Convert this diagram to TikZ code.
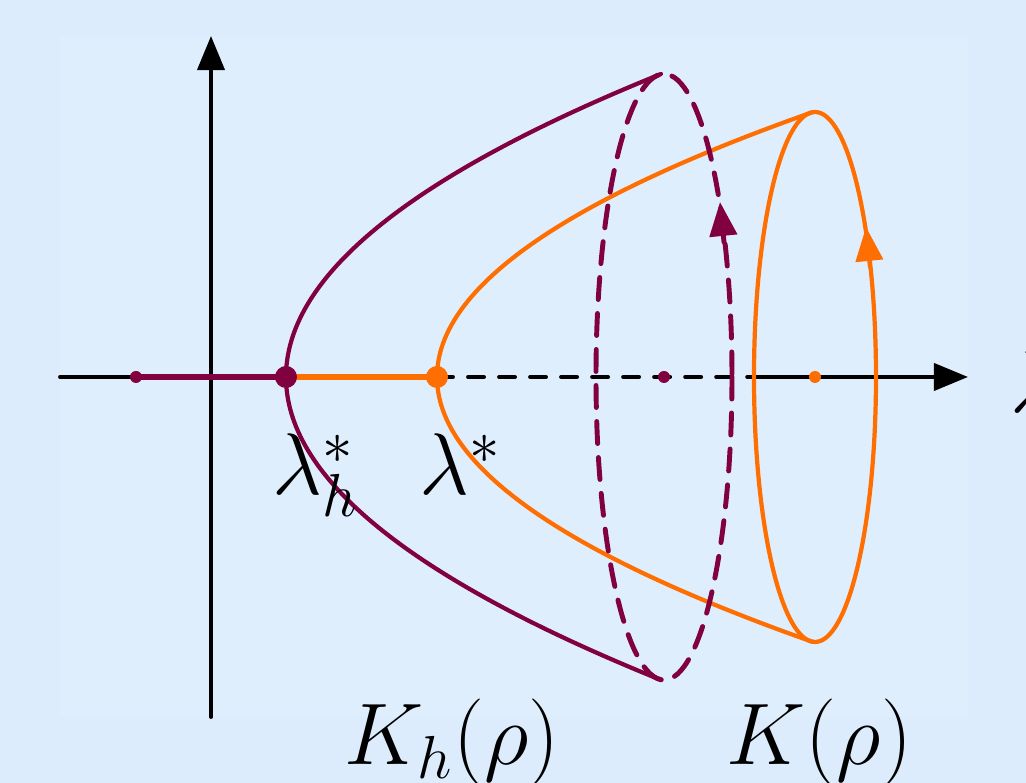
\documentclass[tikz,border=0pt]{standalone}
\usetikzlibrary{arrows.meta}
\definecolor{bgblue}{RGB}{221,236,252}
\definecolor{bginner}{RGB}{223,238,253}
\definecolor{plum}{RGB}{128,0,64}
\definecolor{tangerine}{RGB}{255,110,0}
\begin{document}
\begin{tikzpicture}[x=0.01cm, y=-0.01cm, line join=round, line cap=round,
    >={Triangle[length=0.34cm,width=0.27cm]}, font=\fontsize{24}{28}\selectfont,
    axis/.style={line width=1.1pt}, curve/.style={line width=1.2pt},
    lbl/.style={anchor=base west, inner sep=0pt}]
  \useasboundingbox[fill=bgblue] (0,0) rectangle (1026,783);
  \fill[bginner] (60,37) rectangle (968,717);
  % axes
  \draw[axis] (60,377) -- (437,377);
  \draw[axis, dash pattern=on 0.16cm off 0.15cm] (437,377) -- (754,377);
  \draw[axis,->] (754,377) -- (968,377);
  \draw[axis,->] (211,717) -- (211,36);
  % segments on the axis
  \draw[plum, line width=1.5pt] (136,377) -- (286,377);
  \draw[tangerine, line width=1.5pt] (286,377) -- (437,377);
  % parabolas
  \draw[plum, curve] plot[domain=-303:303, samples=61, smooth] ({286+375*(\x/303)^2}, {377+\x});
  \draw[tangerine, curve] plot[domain=-265:265, samples=61, smooth] ({437+376*(\x/265)^2}, {377+\x});
  % cross sections
  \draw[plum, line width=1.4pt, dash pattern=on 0.22cm off 0.14cm] (664,377) ellipse [x radius=68, y radius=303];
  \draw[tangerine, curve] (815,377) ellipse [x radius=61, y radius=265];
  \draw[plum, line width=1.4pt, ->] (724,242) -- (720,202);
  \draw[tangerine, curve, ->] (870,267) -- (866,227);
  % points
  \fill[plum] (136,377) circle [radius=6];
  \fill[plum] (286,377) circle [radius=11];
  \fill[tangerine] (437,377) circle [radius=11];
  \fill[plum] (664,377) circle [radius=6];
  \fill[tangerine] (815,377) circle [radius=6];
  % labels
  \node[lbl] (lamh) at (272,495) {$\lambda_h^*$};
  \node[lbl] (lam) at (419,495) {$\lambda^*$};
  \node[lbl] (lamx) at (1010,413) {$\lambda$};
  \node[lbl] (kh) at (344,765) {$K_h(\rho)$};
  \node[lbl] (k) at (726,765) {$K(\rho)$};
\end{tikzpicture}
\end{document}
